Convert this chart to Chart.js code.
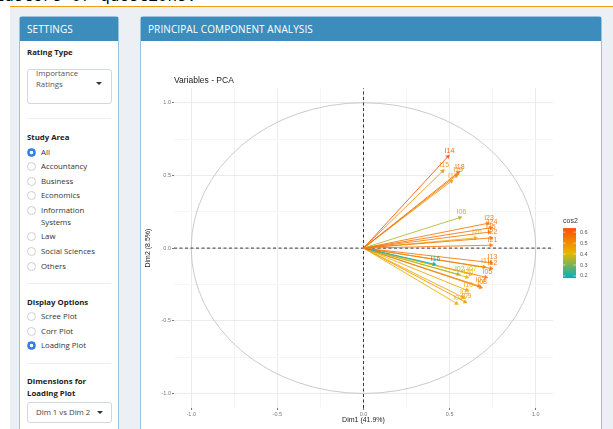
<!DOCTYPE html>
<html>
<head>
<meta charset="utf-8">
<script src="https://cdn.jsdelivr.net/npm/chart.js@4"></script>
<style>
  html, body { margin: 0; padding: 0; background: #fff; width: 613px; height: 429px; overflow: hidden; position: relative; }
  #doc { position: absolute; left: -15px; top: -12px; font: 16px "Liberation Mono", monospace; color: #000; white-space: nowrap; line-height: 18px; }
  #rule { position: absolute; left: 10px; right: 0; top: 6px; height: 1px; background: #f39c12; }
  #bg { position: absolute; left: 10px; right: 0; top: 7px; bottom: 0; background: #ecf0f5; }
  .box { position: absolute; top: 16px; bottom: -4px; background: #fff; border: 1px solid #9cc3dd; border-radius: 3px 3px 0 0; }
  .hdr { position: absolute; left: 0; right: 0; top: 0; height: 24px; background: #3c8dbc; color: #fff;
         font: 10px "Open Sans", sans-serif; line-height: 24px; padding-left: 7px; letter-spacing: 0.1px; }
  #side { left: 19px; width: 98px; }
  #main { left: 140px; width: 460px; }
  #side .t { position: absolute; font: 7.8px "Open Sans", sans-serif; color: #333; line-height: 10px; white-space: nowrap; }
  #side .b { font-weight: bold; color: #222; left: 7px; }
  .rd { position: absolute; left: 7px; width: 7px; height: 7px; border: 1px solid #cfcfcf; border-radius: 50%; background: #fff; }
  .rd.on { border-color: #2f7fe6; background: radial-gradient(circle, #fff 0 1.6px, #2f7fe6 2.1px); }
  .sel { position: absolute; left: 7px; width: 83px; border: 1px solid #d2d6de; border-radius: 3px; background: #fff; }
  .caret { position: absolute; width: 0; height: 0; border-left: 3px solid transparent; border-right: 3px solid transparent; border-top: 3px solid #333; }
  .hr { position: absolute; left: 7px; width: 84px; height: 1px; background: #eee; }
  #pca { position: absolute; left: 0; top: 23px; }
</style>
</head>
<body>
<div id="doc">clusters of questions.</div>
<div id="rule"></div>
<div id="bg"></div>

<div class="box" id="side">
  <div class="hdr">SETTINGS</div>
  <div class="t b" style="top:30px">Rating Type</div>
  <div class="sel" style="top:52px;height:33px">
    <div class="t" style="left:8px;top:-2px;color:#555">Importance</div>
    <div class="t" style="left:8px;top:9px;color:#555">Ratings</div>
    <div class="caret" style="left:68px;top:12px"></div>
  </div>
  <div class="hr" style="top:101px"></div>
  <div class="t b" style="top:115px">Study Area</div>
  <div class="rd on" style="top:131px"></div><div class="t" style="left:21px;top:130px">All</div>
  <div class="rd" style="top:145px"></div><div class="t" style="left:21px;top:144px">Accountancy</div>
  <div class="rd" style="top:160px"></div><div class="t" style="left:21px;top:159px">Business</div>
  <div class="rd" style="top:174px"></div><div class="t" style="left:21px;top:173px">Economics</div>
  <div class="rd" style="top:189px"></div><div class="t" style="left:21px;top:188px">Information</div>
  <div class="t" style="left:21px;top:200px">Systems</div>
  <div class="rd" style="top:215px"></div><div class="t" style="left:21px;top:214px">Law</div>
  <div class="rd" style="top:230px"></div><div class="t" style="left:21px;top:229px">Social Sciences</div>
  <div class="rd" style="top:245px"></div><div class="t" style="left:21px;top:244px">Others</div>
  <div class="hr" style="top:266px"></div>
  <div class="t b" style="top:280px">Display Options</div>
  <div class="rd" style="top:295px"></div><div class="t" style="left:21px;top:294px">Scree Plot</div>
  <div class="rd" style="top:310px"></div><div class="t" style="left:21px;top:309px">Corr Plot</div>
  <div class="rd on" style="top:324px"></div><div class="t" style="left:21px;top:323px">Loading Plot</div>
  <div class="hr" style="top:346px"></div>
  <div class="t b" style="top:359px">Dimensions for</div>
  <div class="t b" style="top:371px">Loading Plot</div>
  <div class="sel" style="top:385px;height:19px">
    <div class="t" style="left:8px;top:4px;color:#444">Dim 1 vs Dim 2</div>
    <div class="caret" style="left:69px;top:8px"></div>
  </div>
</div>

<div class="box" id="main">
  <div class="hdr">PRINCIPAL COMPONENT ANALYSIS</div>
  <canvas id="pca" width="460" height="389"></canvas>
</div>

<script>
// variable loadings on the first two dimensions
const varNames = ['I14','I15','I18','I19','I17','I06','I23','I24','I25','I22','I26','I21',
                  'I16','I13','I11','I12','I02','I07','I20','I05','I03','I08','I10','I01','I04','I09'];
const dim1 = [0.49, 0.46, 0.55, 0.54, 0.51, 0.56, 0.72, 0.74, 0.73, 0.74, 0.65, 0.74,
              0.41, 0.74, 0.70, 0.74, 0.55, 0.62, 0.60, 0.71, 0.67, 0.68, 0.60, 0.58, 0.54, 0.59];
const dim2 = [0.63, 0.53, 0.52, 0.50, 0.46, 0.21, 0.17, 0.14, 0.11, 0.07, 0.07, 0.02,
              -0.11, -0.10, -0.13, -0.14, -0.18, -0.18, -0.20, -0.20, -0.26, -0.27, -0.29, -0.34, -0.38, -0.37];

const majorTicks = [-1, -0.5, 0, 0.5, 1];
const majorLabels = ['-1.0', '-0.5', '0.0', '0.5', '1.0'];
const minorTicks = [-0.75, -0.25, 0.25, 0.75];
const cos2Ticks = [0.2, 0.3, 0.4, 0.5, 0.6];
const cos2Labels = ['0.2', '0.3', '0.4', '0.5', '0.6'];

// colour scale for cos2 (low -> mid -> high)
const gradCols = [[0, 175, 187], [231, 184, 0], [252, 78, 7]];
const cos2 = dim1.map((x, i) => x * x + dim2[i] * dim2[i]);
const cMin = Math.min(...cos2), cMax = Math.max(...cos2);

function cosColor(v, alpha = 1) {
  let t = (v - cMin) / (cMax - cMin);
  t = Math.max(0, Math.min(1, t)) * 2;
  const k = t < 1 ? 0 : 1;
  const f = t - k;
  const a = gradCols[k], b = gradCols[k + 1];
  const c = a.map((u, j) => Math.round(u + (b[j] - u) * f));
  return `rgba(${c[0]},${c[1]},${c[2]},${alpha})`;
}

const FONT = 'Liberation Sans';
const lim = 1.1;

// arrow datasets: one line from the origin to each loading
const arrowSets = varNames.map((name, i) => {
  const col = cosColor(cos2[i], 0.85);
  return {
    label: name,
    data: [{x: 0, y: 0}, {x: dim1[i], y: dim2[i]}],
    showLine: true,
    borderColor: col,
    borderWidth: 1,
    pointRadius: [0, 2.2],
    pointStyle: 'triangle',
    pointBackgroundColor: col,
    pointBorderColor: col,
    pointBorderWidth: 0.5,
    rotation: ctx => {
      const sx = ctx.chart.scales.x, sy = ctx.chart.scales.y;
      if (!sx || !sy) return 0;
      const dx = sx.getPixelForValue(dim1[i]) - sx.getPixelForValue(0);
      const dy = sy.getPixelForValue(dim2[i]) - sy.getPixelForValue(0);
      return Math.atan2(dx, -dy) * 180 / Math.PI;
    },
    order: 0
  };
});

const zeroLine = (pts) => ({
  data: pts, showLine: true, borderColor: '#222', borderWidth: 0.9,
  borderDash: [3, 2.5], pointRadius: 0, order: 5
});

// unit circle, drawn under the arrows
const circlePlugin = {
  id: 'circle',
  beforeDatasetsDraw(chart) {
    const {ctx, scales: {x, y}} = chart;
    const cx = x.getPixelForValue(0), cy = y.getPixelForValue(0);
    ctx.save();
    ctx.strokeStyle = '#c4c4c4';
    ctx.lineWidth = 0.9;
    ctx.beginPath();
    ctx.ellipse(cx, cy, x.getPixelForValue(1) - cx, cy - y.getPixelForValue(1), 0, 0, Math.PI * 2);
    ctx.stroke();
    ctx.restore();
  }
};

// variable names next to the arrow tips
const labelPlugin = {
  id: 'varLabels',
  afterDatasetsDraw(chart) {
    const {ctx, scales: {x, y}} = chart;
    ctx.save();
    ctx.font = `7px "${FONT}"`;
    ctx.textAlign = 'center';
    ctx.textBaseline = 'middle';
    varNames.forEach((n, i) => {
      ctx.fillStyle = cosColor(cos2[i], 0.9);
      ctx.fillText(n, x.getPixelForValue(dim1[i]) + 1.5, y.getPixelForValue(dim2[i]) - 5.5);
    });
    ctx.restore();
  }
};

// cos2 colour bar legend
const colorbarPlugin = {
  id: 'colorbar',
  afterDraw(chart) {
    const {ctx, chartArea: ca} = chart;
    const mid = (ca.top + ca.bottom) / 2;
    const x0 = ca.right + 10, w = 13, top = mid - 20, h = 50;
    const g = ctx.createLinearGradient(0, top + h, 0, top);
    gradCols.forEach((c, j) => g.addColorStop(j / 2, `rgb(${c[0]},${c[1]},${c[2]})`));
    ctx.save();
    ctx.fillStyle = g;
    ctx.fillRect(x0, top, w, h);
    ctx.font = `7px "${FONT}"`;
    ctx.fillStyle = '#333';
    ctx.textBaseline = 'middle';
    ctx.fillText('cos2', x0, top - 7);
    ctx.font = `5.5px "${FONT}"`;
    ctx.fillStyle = '#555';
    cos2Ticks.forEach((v, j) => {
      const py = top + h - (v - cMin) / (cMax - cMin) * h;
      ctx.strokeStyle = 'rgba(255,255,255,0.9)';
      ctx.lineWidth = 0.6;
      ctx.beginPath();
      ctx.moveTo(x0, py); ctx.lineTo(x0 + 2.5, py);
      ctx.moveTo(x0 + w - 2.5, py); ctx.lineTo(x0 + w, py);
      ctx.stroke();
      ctx.fillText(cos2Labels[j], x0 + w + 4, py);
    });
    ctx.restore();
  }
};

function axisOpts(titleText, isX) {
  return {
    type: 'linear',
    min: -lim,
    max: lim,
    afterBuildTicks: s => {
      s.ticks = [...majorTicks, ...minorTicks].sort((a, b) => a - b).map(v => ({value: v}));
    },
    afterFit: s => { if (isX) s.height = 21; else s.width = 33; },
    border: {display: false},
    grid: {
      color: c => majorTicks.includes(c.tick && c.tick.value) ? '#ebebeb' : '#f5f5f5',
      lineWidth: 1,
      drawTicks: true,
      tickLength: 2,
      tickColor: c => majorTicks.includes(c.tick && c.tick.value) ? '#777' : 'rgba(0,0,0,0)'
    },
    ticks: {
      autoSkip: false,
      maxRotation: 0,
      padding: 1,
      color: '#777',
      font: {family: FONT, size: 5.5},
      callback: v => {
        const k = majorTicks.indexOf(v);
        return k >= 0 ? majorLabels[k] : '';
      }
    },
    title: {
      display: true,
      text: titleText,
      color: '#222',
      font: {family: FONT, size: 7},
      padding: isX ? {top: 0, bottom: 4.8} : {top: 3, bottom: 0}
    }
  };
}

new Chart(document.getElementById('pca'), {
  type: 'scatter',
  data: {
    datasets: [
      ...arrowSets,
      zeroLine([{x: -lim, y: 0}, {x: lim, y: 0}]),
      zeroLine([{x: 0, y: -lim}, {x: 0, y: lim}])
    ]
  },
  options: {
    responsive: false,
    animation: false,
    events: [],
    layout: {padding: {left: 0, right: 48, top: 0, bottom: 0}},
    plugins: {
      legend: {display: false},
      tooltip: {enabled: false},
      title: {
        display: true,
        text: 'Variables - PCA',
        align: 'start',
        fullSize: false,
        color: '#222',
        font: {family: FONT, size: 8.5, weight: 'normal'},
        padding: {top: 36, bottom: 2}
      }
    },
    scales: {
      x: axisOpts('Dim1 (41.9%)', true),
      y: axisOpts('Dim2 (8.5%)', false)
    }
  },
  plugins: [circlePlugin, labelPlugin, colorbarPlugin]
});
</script>
</body>
</html>
